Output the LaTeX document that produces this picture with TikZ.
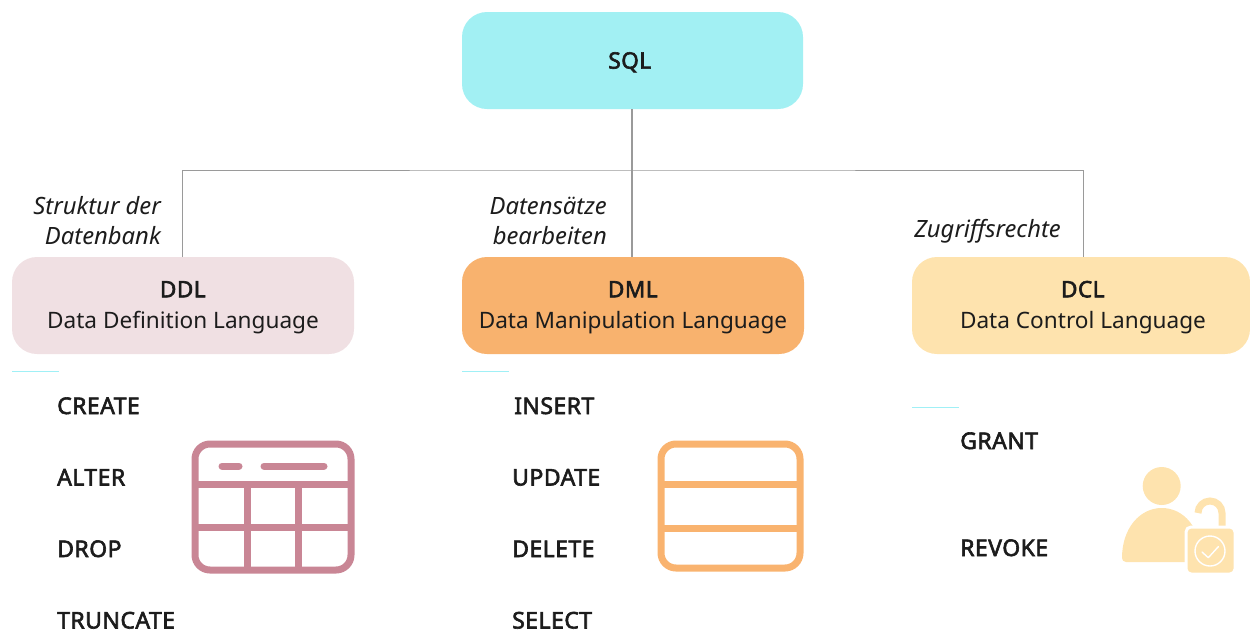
\documentclass[tikz,border=0pt]{standalone}
\usepackage{fontspec}
\setmainfont{Noto Sans}[BoldFont={Noto Sans},BoldFeatures={FakeBold=2.6,LetterSpace=2}]
\definecolor{sqlc}{HTML}{A2F0F3}
\definecolor{ddlc}{HTML}{F0E0E3}
\definecolor{dmlc}{HTML}{F8B26E}
\definecolor{dclc}{HTML}{FEE3AE}
\definecolor{pinkc}{HTML}{C98695}
\definecolor{orc}{HTML}{F9B36F}
\definecolor{linec}{HTML}{9A9A9A}
\definecolor{txt}{HTML}{1C1C1C}
\definecolor{rulec}{HTML}{A0F0F6}
\newcommand{\pad}{\rule{0pt}{20pt}}
\tikzset{
  x=1pt,y=-1pt,
  box/.style={rounded corners=25pt,minimum height=97pt,align=center,inner sep=0pt,text=txt,font=\fontsize{22.6}{31}\selectfont},
  cmd/.style={anchor=base west,inner sep=0pt,text=txt,font=\fontsize{23}{26}\selectfont\bfseries},
  note/.style={anchor=base east,inner sep=0pt,text=txt,font=\fontsize{23.8}{26}\selectfont\itshape},
  conn/.style={draw=linec,line width=1pt},
  tick/.style={draw=rulec,line width=1pt},
  tbl/.style={line width=7pt,rounded corners=15pt},
}
\begin{document}
\begin{tikzpicture}
\useasboundingbox (0,0) rectangle (1250,633);
\node[box,fill=sqlc,minimum width=341pt] (sql) at (632.5,60.5) {\pad\hspace*{-5pt}\textbf{SQL}};
\node[box,fill=ddlc,minimum width=342pt] (ddl) at (183,305.5) {\pad\textbf{DDL}\\Data Definition Language};
\node[box,fill=dmlc,minimum width=342pt] (dml) at (633,305.5) {\pad\textbf{DML}\\Data Manipulation Language};
\node[box,fill=dclc,minimum width=338pt] (dcl) at (1081,305.5) {\pad\hspace*{4pt}\textbf{DCL}\\\hspace*{4pt}Data Control Language};
\coordinate (hub) at (632,170);
\coordinate (ddltop) at (182.5,257);
\coordinate (dcltop) at (1083,257);
\draw[conn,line width=1.6pt] (sql.south -| hub) -- (dml.north -| hub);
\draw[conn] (ddltop) |- (hub) -| (dcltop);
% notes
\node[note] (n1) at (161,214) {Struktur der};
\node[note] (n2) at (161,244) {Datenbank};
\node[note] (n3) at (607,214) {Datensätze};
\node[note] (n4) at (607,244) {bearbeiten};
\node[note] (n5) at (1061,237) {Zugriffsrechte};
% ticks
\draw[tick] (12,371.5) -- (59,371.5);
\draw[tick] (462,371.5) -- (509,371.5);
\draw[tick] (912,407) -- (959,407);
% commands
\node[cmd] (c1) at (57,414) {CREATE};
\node[cmd] (c2) at (57,485.5) {ALTER};
\node[cmd] (c3) at (57,557) {DROP};
\node[cmd] (c4) at (57,628.5) {TRUNCATE};
\node[cmd] (m1) at (514,414) {INSERT};
\node[cmd] (m2) at (512,485.5) {UPDATE};
\node[cmd] (m3) at (512,557) {DELETE};
\node[cmd] (m4) at (512,628.5) {SELECT};
\node[cmd] (g1) at (960,449) {GRANT};
\node[cmd] (g2) at (960,556) {REVOKE};
% pink table icon
\draw[pinkc,tbl] (195,444) rectangle (351,570);
\draw[pinkc,line width=7pt] (195,484) -- (351,484) (195,527) -- (351,527) (247,484) -- (247,570) (298,484) -- (298,570);
\draw[pinkc,line width=7pt,line cap=round] (222,466) -- (239,466) (264,466) -- (324,466);
% orange table icon
\draw[orc,tbl] (661,444) rectangle (800,568);
\draw[orc,line width=7pt] (661,484) -- (800,484) (661,528) -- (800,528);
% person with lock
\fill[dclc] (1161.7,486) circle[radius=19pt];
\fill[dclc] (1122,558) .. controls (1122,528) and (1140,508) .. (1161.7,508) .. controls (1184,508) and (1201,528) .. (1201,558) -- (1201,562) -- (1126,562) .. controls (1123.5,562) and (1122,560) .. (1122,558) -- cycle;
\draw[dclc,line width=7pt] (1198,513) arc[start angle=180,end angle=0,radius=12pt] -- (1222,530);
\draw[white,line width=3pt,fill=dclc,rounded corners=5pt] (1186,527) rectangle (1235,574);
\draw[white,line width=1.4pt] (1210,551) circle[radius=15pt];
\draw[white,line width=1.4pt,line join=round,line cap=round] (1202,552) -- (1208.3,557.7) -- (1218.3,546.7);
\end{tikzpicture}
\end{document}
